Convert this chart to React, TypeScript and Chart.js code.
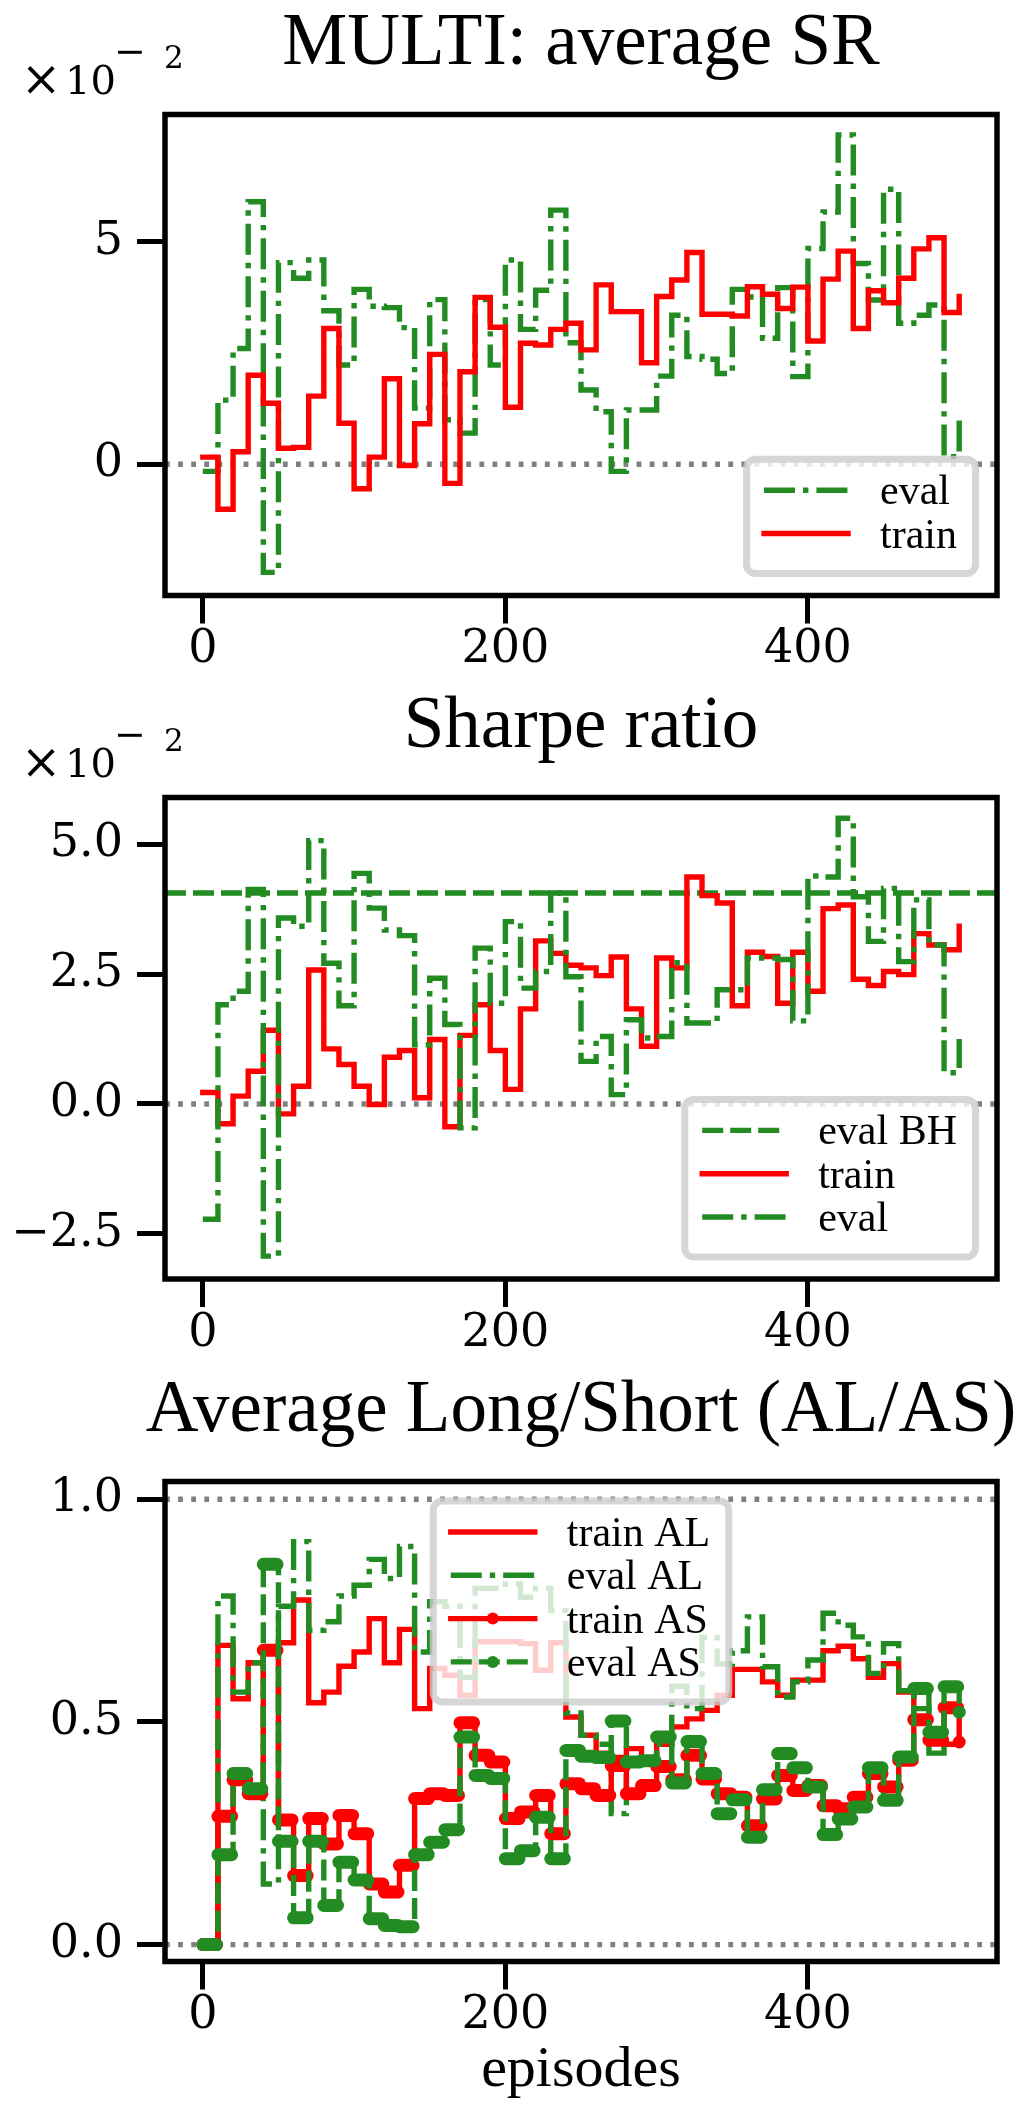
import { useEffect, useRef } from "react";
import { Chart, registerables } from "chart.js";

Chart.register(...registerables);

// episodes at which the running averages were logged
const EPISODES = [0, 10, 20, 30, 40, 50, 60, 70, 80, 90, 100, 110, 120, 130, 140, 150, 160, 170, 180, 190, 200, 210, 220, 230, 240, 250, 260, 270, 280, 290, 300, 310, 320, 330, 340, 350, 360, 370, 380, 390, 400, 410, 420, 430, 440, 450, 460, 470, 480, 490, 500];

// MULTI: average SR (units of 1e-2)
const SR_EVAL = [-0.16, 1.44, 2.6, 5.9, -2.43, 4.53, 4.18, 4.59, 3.45, 2.23, 3.93, 3.55, 3.52, 3.07, 1.26, 3.7, 1.0, 0.7, 3.7, 2.23, 4.59, 3.03, 3.91, 5.71, 2.73, 1.67, 1.18, -0.16, 1.22, 1.22, 1.98, 3.35, 2.42, 2.36, 2.04, 3.93, 3.76, 2.83, 3.97, 1.97, 4.85, 5.67, 7.4, 4.51, 3.69, 6.18, 3.17, 3.35, 3.58, 0.17, 1.15];
const SR_TRAIN = [0.16, -1.01, 0.28, 2.0, 1.37, 0.36, 0.38, 1.53, 3.05, 0.92, -0.55, 0.16, 1.92, -0.03, 0.91, 2.47, -0.43, 2.08, 3.75, 3.08, 1.28, 2.72, 2.68, 3.03, 3.17, 2.57, 4.03, 3.43, 3.43, 2.28, 3.77, 4.14, 4.76, 3.37, 3.37, 3.33, 3.99, 3.82, 3.5, 3.98, 2.77, 4.16, 4.79, 3.05, 3.9, 3.63, 4.18, 4.84, 5.09, 3.41, 3.77];

// Sharpe ratio (units of 1e-2)
const SHARPE_EVAL_BH = 4.06;
const SHARPE_TRAIN = [0.22, -0.38, 0.15, 0.63, 1.42, -0.19, 0.34, 2.58, 1.06, 0.76, 0.34, -0.01, 0.9, 1.03, 0.12, 1.24, -0.44, 1.32, 1.91, 1.03, 0.28, 1.83, 3.14, 2.9, 2.67, 2.62, 2.47, 2.83, 1.83, 1.11, 2.81, 2.62, 4.37, 4.01, 3.87, 1.89, 2.92, 2.84, 1.94, 2.92, 2.17, 3.76, 3.83, 2.4, 2.28, 2.55, 2.49, 3.28, 3.06, 2.97, 3.42];
const SHARPE_EVAL = [-2.22, 1.91, 2.17, 4.13, -2.93, 3.58, 3.42, 5.07, 2.71, 1.89, 4.44, 3.77, 3.35, 3.24, 1.14, 2.42, 1.53, -0.46, 3.0, 1.94, 3.51, 2.23, 2.55, 4.06, 2.45, 0.82, 1.3, 0.18, 1.62, 1.27, 1.3, 2.72, 1.56, 1.56, 2.2, 2.2, 2.81, 2.81, 2.78, 1.6, 4.39, 4.37, 5.5, 3.99, 3.13, 4.15, 2.74, 3.93, 3.06, 0.6, 1.25];

// Average Long / Short
const AL_TRAIN = [0, 0.672, 0.552, 0.633, 0.665, 0.678, 0.774, 0.543, 0.567, 0.625, 0.657, 0.732, 0.633, 0.708, 0.53, 0.62, 0.605, 0.56, 0.68, 0.68, 0.68, 0.676, 0.616, 0.678, 0.511, 0.47, 0.43, 0.42, 0.44, 0.41, 0.45, 0.489, 0.507, 0.526, 0.56, 0.618, 0.618, 0.59, 0.56, 0.594, 0.594, 0.66, 0.67, 0.642, 0.6, 0.631, 0.567, 0.51, 0.46, 0.45, 0.45];
const AL_EVAL = [0, 0.783, 0.567, 0.633, 0.136, 0.76, 0.905, 0.706, 0.725, 0.783, 0.807, 0.865, 0.822, 0.894, 0.657, 0.77, 0.76, 0.6, 0.8, 0.8, 0.81, 0.78, 0.8, 0.75, 0.52, 0.47, 0.45, 0.294, 0.406, 0.41, 0.45, 0.58, 0.53, 0.69, 0.63, 0.66, 0.736, 0.624, 0.556, 0.59, 0.639, 0.744, 0.717, 0.691, 0.609, 0.676, 0.57, 0.53, 0.43, 0.526, 0.52];
const AS_TRAIN = [0, 0.288, 0.37, 0.339, 0.661, 0.28, 0.155, 0.283, 0.226, 0.29, 0.249, 0.136, 0.118, 0.178, 0.328, 0.339, 0.335, 0.498, 0.425, 0.41, 0.283, 0.298, 0.335, 0.249, 0.361, 0.35, 0.335, 0.402, 0.339, 0.357, 0.4, 0.37, 0.425, 0.372, 0.339, 0.331, 0.267, 0.327, 0.38, 0.346, 0.357, 0.312, 0.305, 0.331, 0.384, 0.354, 0.414, 0.505, 0.459, 0.532, 0.455];
const AS_EVAL = [0, 0.202, 0.384, 0.35, 0.854, 0.232, 0.06, 0.232, 0.088, 0.185, 0.145, 0.058, 0.043, 0.04, 0.202, 0.23, 0.258, 0.466, 0.38, 0.373, 0.193, 0.211, 0.286, 0.193, 0.436, 0.423, 0.42, 0.502, 0.41, 0.413, 0.466, 0.363, 0.456, 0.384, 0.294, 0.325, 0.241, 0.348, 0.429, 0.397, 0.354, 0.247, 0.282, 0.309, 0.397, 0.324, 0.421, 0.575, 0.477, 0.579, 0.522];

const X_TICKS = [0, 200, 400];
const SR_TICKS = [0, 5];
const SHARPE_TICKS = [-2.5, 0, 2.5, 5];
const ALAS_TICKS = [0, 0.5, 1];

const X_MIN = -25;
const X_MAX = 525;

const RED = "#ff0000";
const GREEN = "#228b22";
const GRAY = "#808080";
const SERIF = '"Liberation Serif", "Times New Roman", serif';
const MATH = '"DejaVu Serif", "Liberation Serif", serif';
const LW = 5.4;
const DASHDOT = [31, 8, 5.4, 8];
const DASHED = [21, 7];
const DOTTED = [4.8, 8.3];

const WIDTH = 1020;
const AREA_LEFT = 165;
const AREA_RIGHT = 997;
const AREA_TOP = 114.5;

type Series = {
    label: string;
    values: number[] | number; // a plain number is a horizontal reference line
    color: string;
    dash: number[];
    markers?: boolean;
};

type PanelDef = {
    title: string;
    height: number;
    areaBottom: number;
    yMin: number;
    yMax: number;
    yTicks: number[];
    decimals: number;
    refLines: number[];
    scaled: boolean;
    xLabel?: string;
    legend: "lower right" | "upper center";
    series: Series[]; // plotting order, first one at the bottom
};

const PANELS: PanelDef[] = [
    {
        title: "MULTI: average SR",
        height: 683,
        areaBottom: 595.5,
        yMin: -2.95,
        yMax: 7.86,
        yTicks: SR_TICKS,
        decimals: 0,
        refLines: [0],
        scaled: true,
        legend: "lower right",
        series: [
            { label: "eval", values: SR_EVAL, color: GREEN, dash: DASHDOT },
            { label: "train", values: SR_TRAIN, color: RED, dash: [] },
        ],
    },
    {
        title: "Sharpe ratio",
        height: 684,
        areaBottom: 596,
        yMin: -3.37,
        yMax: 5.9,
        yTicks: SHARPE_TICKS,
        decimals: 1,
        refLines: [0],
        scaled: true,
        legend: "lower right",
        series: [
            { label: "eval BH", values: SHARPE_EVAL_BH, color: GREEN, dash: DASHED },
            { label: "train", values: SHARPE_TRAIN, color: RED, dash: [] },
            { label: "eval", values: SHARPE_EVAL, color: GREEN, dash: DASHDOT },
        ],
    },
    {
        title: "Average Long/Short (AL/AS)",
        height: 751,
        areaBottom: 594.5,
        yMin: -0.038,
        yMax: 1.04,
        yTicks: ALAS_TICKS,
        decimals: 1,
        refLines: [0, 1],
        scaled: false,
        xLabel: "episodes",
        legend: "upper center",
        series: [
            { label: "train AL", values: AL_TRAIN, color: RED, dash: [] },
            { label: "eval AL", values: AL_EVAL, color: GREEN, dash: DASHDOT },
            { label: "train AS", values: AS_TRAIN, color: RED, dash: [], markers: true },
            { label: "eval AS", values: AS_EVAL, color: GREEN, dash: DASHED, markers: true },
        ],
    },
];

function fmt(v: number, decimals: number): string {
    const s = Math.abs(v).toFixed(decimals);
    return v < 0 ? "\u2212" + s : s;
}

function Panel({ def }: { def: PanelDef }) {
    const canvasRef = useRef<HTMLCanvasElement | null>(null);

    useEffect(() => {
        const canvas = canvasRef.current;
        if (!canvas) return;

        const decor = {
            id: "decor",
            // dotted reference lines, under the data
            beforeDatasetsDraw(chart: any) {
                const { ctx, chartArea: a, scales } = chart;
                ctx.save();
                ctx.strokeStyle = GRAY;
                ctx.lineWidth = LW;
                ctx.setLineDash(DOTTED);
                for (const v of def.refLines) {
                    const py = scales.y.getPixelForValue(v);
                    ctx.beginPath();
                    ctx.moveTo(a.left, py);
                    ctx.lineTo(a.right, py);
                    ctx.stroke();
                }
                ctx.restore();
            },
            // '.' markers logged every episode: a run of dots along each flat step
            afterDatasetDraw(chart: any, args: any) {
                const s = def.series[args.index];
                if (!s || !s.markers || typeof s.values === "number") return;
                const vals = s.values;
                const { ctx, chartArea: a, scales } = chart;
                ctx.save();
                ctx.beginPath();
                ctx.rect(a.left, a.top, a.width, a.height);
                ctx.clip();
                ctx.strokeStyle = s.color;
                ctx.fillStyle = s.color;
                ctx.lineWidth = 13;
                ctx.lineCap = "round";
                for (let i = 0; i < vals.length - 1; i++) {
                    const x0 = scales.x.getPixelForValue(EPISODES[i]);
                    const x1 = scales.x.getPixelForValue(EPISODES[i + 1]);
                    const py = scales.y.getPixelForValue(vals[i]);
                    ctx.beginPath();
                    ctx.moveTo(x0, py);
                    ctx.lineTo(x1 - (x1 - x0) * 0.1, py);
                    ctx.stroke();
                }
                const last = vals.length - 1;
                ctx.beginPath();
                ctx.arc(scales.x.getPixelForValue(EPISODES[last]), scales.y.getPixelForValue(vals[last]), 6.5, 0, Math.PI * 2);
                ctx.fill();
                ctx.restore();
            },
            // axes frame
            afterDatasetsDraw(chart: any) {
                const { ctx, chartArea: a } = chart;
                ctx.save();
                ctx.strokeStyle = "#000";
                ctx.lineWidth = 5.5;
                ctx.strokeRect(a.left, a.top, a.right - a.left, a.bottom - a.top);
                ctx.restore();
            },
            // titles, offset text, x label and legend
            afterDraw(chart: any) {
                const { ctx, chartArea: a } = chart;
                const cx = (a.left + a.right) / 2;
                ctx.save();
                ctx.fillStyle = "#000";
                ctx.textBaseline = "alphabetic";

                ctx.font = `73px ${SERIF}`;
                ctx.textAlign = "center";
                ctx.fillText(def.title, cx, 64);

                if (def.xLabel) {
                    ctx.font = `58px ${SERIF}`;
                    ctx.fillText(def.xLabel, cx, a.bottom + 124);
                }

                if (def.scaled) {
                    ctx.textAlign = "left";
                    ctx.font = `48px ${MATH}`;
                    ctx.fillText("\u00d7", 21, 95);
                    ctx.font = `40px ${MATH}`;
                    ctx.fillText("10", 65, 94);
                    ctx.font = `38px ${MATH}`;
                    ctx.fillText("\u2212", 114, 64);
                    ctx.font = `31px ${MATH}`;
                    ctx.fillText("2", 164, 68);
                }

                // legend
                const items = def.series;
                ctx.font = `42px ${SERIF}`;
                const textW = Math.max(...items.map((s) => ctx.measureText(s.label).width));
                const w = 137 + textW + 22;
                const h = 34.5 + (items.length - 1) * 43.3 + 43.5;
                let left: number;
                let top: number;
                if (def.legend === "lower right") {
                    left = a.right - 18 - w;
                    top = a.bottom - 18.5 - h;
                } else {
                    left = cx - w / 2;
                    top = a.top + 16;
                }
                ctx.beginPath();
                ctx.roundRect(left + 3.5, top + 3.5, w - 7, h - 7, 9);
                ctx.fillStyle = "rgba(255,255,255,0.8)";
                ctx.fill();
                ctx.lineWidth = 7;
                ctx.strokeStyle = "rgba(204,204,204,0.8)";
                ctx.stroke();

                items.forEach((s, k) => {
                    const cy = top + 34.5 + k * 43.3;
                    const x0 = left + 21;
                    const x1 = x0 + 84;
                    ctx.strokeStyle = s.color;
                    ctx.lineWidth = LW;
                    ctx.setLineDash(s.dash);
                    ctx.lineCap = s.dash.length ? "butt" : "square";
                    ctx.beginPath();
                    ctx.moveTo(x0, cy);
                    ctx.lineTo(x1, cy);
                    ctx.stroke();
                    ctx.setLineDash([]);
                    if (s.markers) {
                        ctx.fillStyle = s.color;
                        ctx.beginPath();
                        ctx.arc((x0 + x1) / 2, cy, 6, 0, Math.PI * 2);
                        ctx.fill();
                    }
                    ctx.fillStyle = "#000";
                    ctx.textAlign = "left";
                    ctx.fillText(s.label, left + 137, cy + 14);
                });
                ctx.restore();
            },
        };

        const tickFont = { family: MATH, size: 46, lineHeight: 1 };
        const tickGrid = {
            display: true,
            drawOnChartArea: false,
            drawTicks: true,
            tickLength: 28,
            tickWidth: 5,
            tickColor: "#000",
        };

        const chart = new Chart(canvas, {
            type: "line",
            data: {
                datasets: def.series.map((s, i) => ({
                    label: s.label,
                    data:
                        typeof s.values === "number"
                            ? [
                                  { x: X_MIN, y: s.values },
                                  { x: X_MAX, y: s.values },
                              ]
                            : EPISODES.map((e, k) => ({ x: e, y: (s.values as number[])[k] })),
                    borderColor: s.color,
                    backgroundColor: s.color,
                    borderWidth: LW,
                    borderDash: s.dash,
                    borderCapStyle: s.dash.length ? "butt" : "square",
                    borderJoinStyle: "miter",
                    pointRadius: 0,
                    fill: false,
                    stepped: typeof s.values === "number" ? false : "before",
                    order: -i,
                })) as any,
            },
            options: {
                responsive: false,
                animation: false,
                events: [],
                layout: { padding: { top: AREA_TOP, left: 0, right: WIDTH - AREA_RIGHT, bottom: 0 } },
                plugins: {
                    legend: { display: false },
                    title: { display: false },
                    tooltip: { enabled: false },
                },
                scales: {
                    x: {
                        type: "linear",
                        min: X_MIN,
                        max: X_MAX,
                        afterBuildTicks: (scale: any) => {
                            scale.ticks = X_TICKS.map((v) => ({ value: v }));
                        },
                        afterFit: (scale: any) => {
                            scale.height = def.height - def.areaBottom;
                        },
                        grid: tickGrid,
                        border: { display: false },
                        ticks: {
                            font: tickFont,
                            color: "#000",
                            padding: 4,
                            maxRotation: 0,
                            autoSkip: false,
                            callback: (v: any) => String(v),
                        },
                    },
                    y: {
                        type: "linear",
                        min: def.yMin,
                        max: def.yMax,
                        afterBuildTicks: (scale: any) => {
                            scale.ticks = def.yTicks.map((v) => ({ value: v }));
                        },
                        afterFit: (scale: any) => {
                            scale.width = AREA_LEFT;
                        },
                        grid: tickGrid,
                        border: { display: false },
                        ticks: {
                            font: tickFont,
                            color: "#000",
                            padding: 14,
                            autoSkip: false,
                            callback: (v: any) => fmt(Number(v), def.decimals),
                        },
                    },
                },
            } as any,
            plugins: [decor],
        });

        return () => {
            chart.destroy();
        };
    }, [def]);

    return <canvas ref={canvasRef} width={WIDTH} height={def.height} style={{ display: "block", width: WIDTH, height: def.height }} />;
}

export default function App() {
    useEffect(() => {
        document.body.style.margin = "0";
    }, []);

    return (
        <div style={{ position: "absolute", left: 0, top: 0, width: WIDTH, background: "#fff" }}>
            {PANELS.map((p) => (
                <Panel key={p.title} def={p} />
            ))}
        </div>
    );
}
